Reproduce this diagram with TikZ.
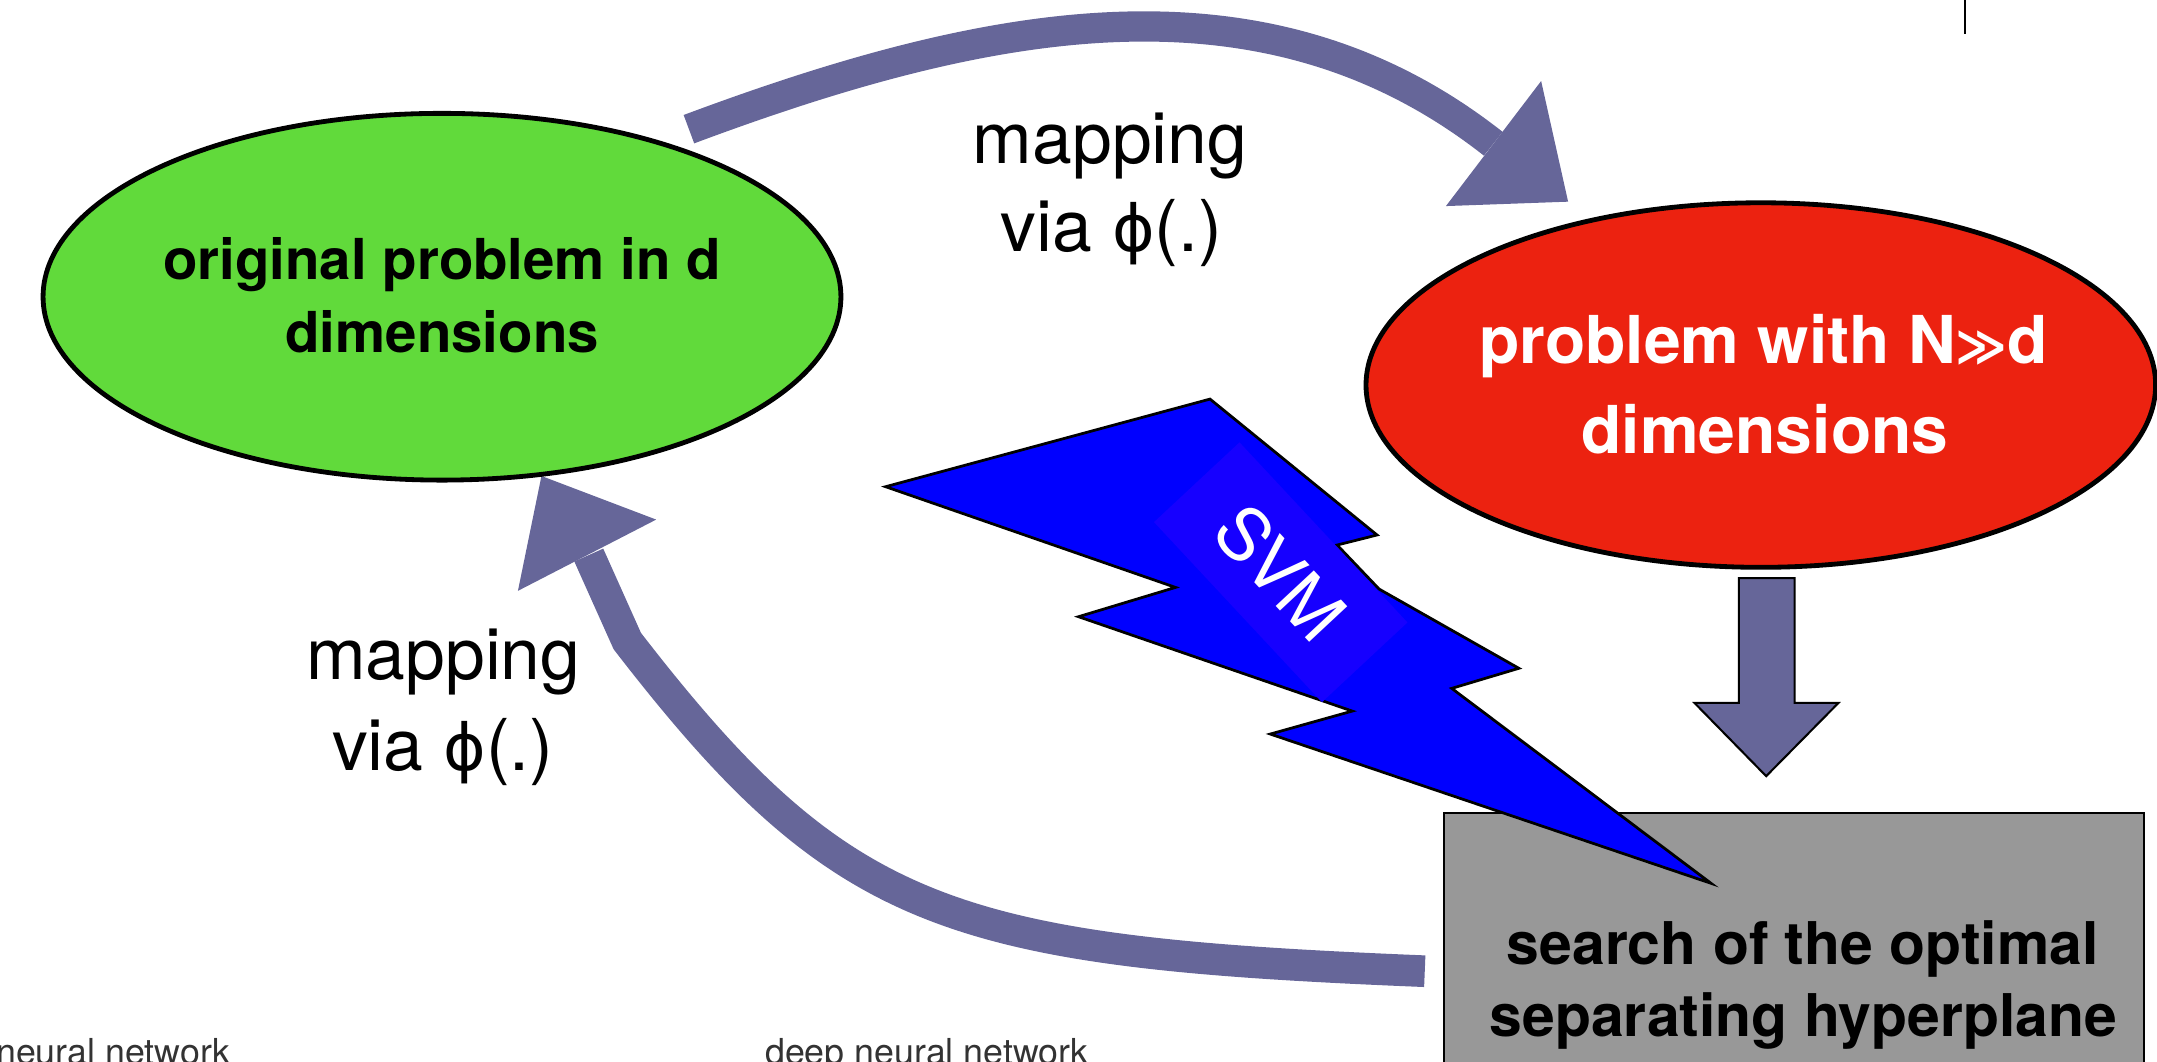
\documentclass[tikz,border=0pt]{standalone}
\usepackage{fontspec}
\setmainfont{TeX Gyre Heros}
\newfontfamily\symfont{DejaVu Sans}
\usetikzlibrary{shapes.geometric}
\definecolor{leafgreen}{RGB}{97,218,59}
\definecolor{alarmred}{RGB}{236,34,16}
\definecolor{slate}{RGB}{102,102,153}
\definecolor{boxgray}{RGB}{152,152,152}
\definecolor{boltblue}{RGB}{0,0,255}
\definecolor{tagblue}{RGB}{22,0,255}
\newcommand{\phisym}{{\symfont\fontsize{47}{60}\selectfont ϕ}}
\begin{document}
\begin{tikzpicture}[x=1pt,y=-1pt,
  bubble/.style={ellipse,draw=black,line width=3.5pt,inner sep=0pt},
  txt/.style={inner sep=0pt,anchor=base},
  greentxt/.style={txt,font=\fontsize{41}{53}\selectfont\bfseries},
  redtxt/.style={txt,text=white,font=\fontsize{48}{63}\selectfont\bfseries},
  graytxt/.style={txt,font=\fontsize{42.8}{54}\selectfont\bfseries},
  maptxt/.style={txt,font=\fontsize{52}{64}\selectfont},
  smalltxt/.style={inner sep=0pt,anchor=base west,text=black!80,font=\fontsize{26}{30}\selectfont},
  shaft/.style={draw=slate,line width=22pt},
  head/.style={fill=slate}
]
\useasboundingbox (0,0) rectangle (1568,772);

% thin mark at the top edge
\coordinate (markA) at (1428.5,0);
\coordinate (markB) at (1428.5,25);
\draw[line width=1.5pt] (markA) -- (markB);

% result box
\node[draw=black,fill=boxgray,line width=1.5pt,inner sep=0pt,anchor=north west,
      minimum width=508.8pt,minimum height=260pt] (search) at (1049.2,590.2) {};

% upper curved arrow: original -> high dimensional
\coordinate (topstart) at (500.8,93.9);
\coordinate (topend) at (1085.5,104.5);
\coordinate (topbarbA) at (1120.3,58.9);
\coordinate (topbarbB) at (1051.1,149.8);
\coordinate (toptip) at (1139.9,146.6);
\draw[shaft] (topstart) .. controls (720,12) and (919.6,-26) .. (topend);
\fill[head] (topbarbA) -- (toptip) -- (topbarbB) -- cycle;

% lower curved arrow: hyperplane -> original
\coordinate (lowstart) at (1035.7,706);
\coordinate (lowbend) at (456,466);
\coordinate (lowend) at (428,403.5);
\coordinate (lowbarbA) at (477,377.7);
\coordinate (lowbarbB) at (376.5,429.5);
\coordinate (lowtip) at (393.6,346);
\draw[shaft,line width=23pt,line join=miter]
  (lowstart) .. controls (690,692) and (612,668) .. (lowbend) -- (lowend);
\fill[head] (lowbarbA) -- (lowtip) -- (lowbarbB) -- cycle;

% the two problem spaces
\node[bubble,fill=leafgreen,minimum width=580pt,minimum height=266.6pt] (orig) at (321.3,215.7) {};
\node[bubble,fill=alarmred,minimum width=574pt,minimum height=265pt] (high) at (1280,279.9) {};

% block arrow from the high dimensional problem down to the search
\draw[fill=slate,draw=black,line width=1.5pt]
  (1264,420.3) -- (1304.5,420.3) -- (1304.5,511) -- (1336.4,511)
  -- (1283.9,564.2) -- (1231.8,511) -- (1264,511) -- cycle;

% lightning bolt
\draw[fill=boltblue,draw=black,line width=2pt,line join=miter]
  (643.8,353.8) -- (879.6,290.1) -- (1001,388.9) -- (972,396.2)
  -- (1002.5,428.2) -- (1104.1,485.8) -- (1055.3,500.4) -- (1243.8,642.1)
  -- (923.4,533.6) -- (983,516.9) -- (784,448.3) -- (854.5,427) -- cycle;
\node[rotate=-47,fill=tagblue,minimum width=179pt,minimum height=85pt,inner sep=0pt,
      text=white,font=\fontsize{52}{60}\selectfont] (svm) at (931,416) {SVM};

% labels
\node[greentxt] (origA) at (321.4,203.5) {original problem in d};
\node[greentxt] (origB) at (321.4,256.4) {dimensions};
\node[redtxt] (highA) at (1282,264.5) {problem with N{\symfont\fontsize{36}{48}\selectfont ≫}d};
\node[redtxt] (highB) at (1283,330) {dimensions};
\node[graytxt] (searchA) at (1310.5,701) {search of the optimal};
\node[graytxt] (searchB) at (1310.9,753.6) {separating hyperplane};
\node[maptxt] (mapA) at (807,119.2) {mapping};
\node[maptxt] (mapB) at (808,183) {via \phisym(.)};
\node[maptxt] (mapC) at (322.3,494.3) {mapping};
\node[maptxt] (mapD) at (322,559.8) {via \phisym(.)};

% captions at the lower edge
\node[smalltxt] (capA) at (-3,774) {neural network};
\node[smalltxt] (capB) at (556,774) {deep neural network};
\end{tikzpicture}
\end{document}
